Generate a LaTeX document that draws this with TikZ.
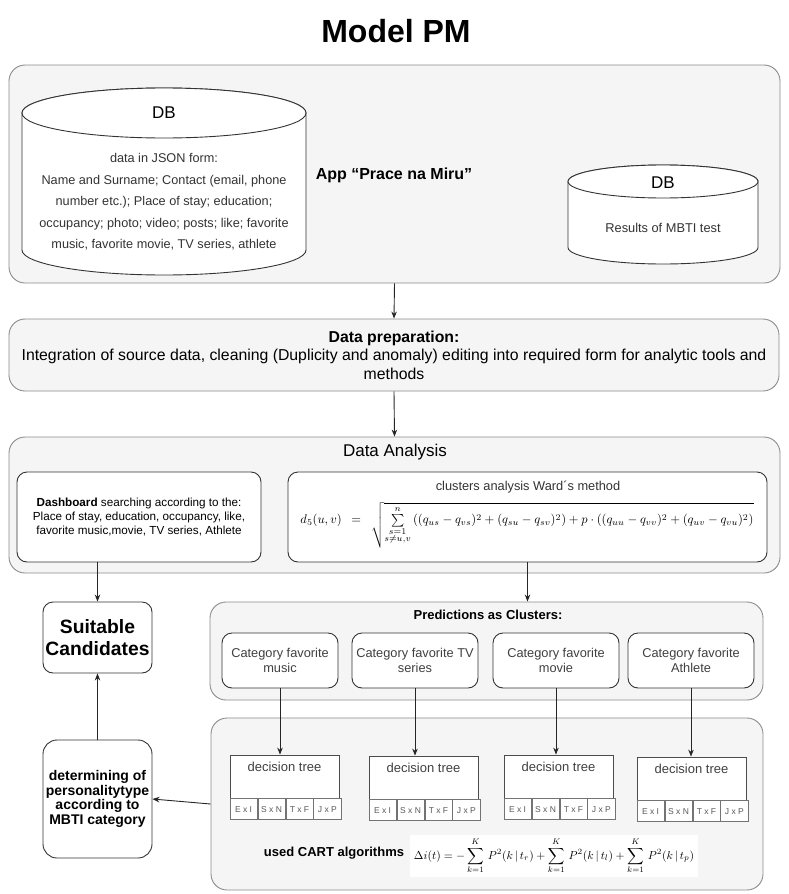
\documentclass[tikz,border=0pt]{standalone}
\usepackage[no-math]{fontspec}
\setmainfont{Liberation Sans}
\usepackage{amsmath}
\usepackage{graphicx}
\usetikzlibrary{arrows.meta,positioning}
\definecolor{panelfill}{HTML}{F5F5F5}
\definecolor{paneledge}{HTML}{8C8C8C}
\definecolor{inkgray}{HTML}{333333}

\begin{document}
\begin{tikzpicture}[x=1pt, y=-1pt,
    panel/.style={
        draw=paneledge, fill=panelfill, line width=0.9pt,
        rounded corners=16pt, inner sep=0pt
    },
    card/.style={
        draw=inkgray, fill=white, line width=0.9pt,
        rounded corners=10pt, align=center, inner sep=2pt
    },
    dbshape/.style={draw=inkgray, fill=white, line width=0.9pt},
    category/.style={
        card, minimum height=55pt, text=black!75,
        font=\fontsize{12.8}{15.5}\selectfont
    },
    treehead/.style={
        draw=black!70, fill=white, line width=0.8pt,
        minimum width=109pt, minimum height=43pt, inner sep=0pt
    },
    treecell/.style={
        draw=black!55, fill=white, line width=0.7pt,
        minimum width=27.25pt, minimum height=21pt, inner sep=0pt,
        text=black!65, font=\fontsize{8.5}{9}\selectfont
    },
    treetxt/.style={inner sep=0pt, text=black!75, font=\fontsize{13}{15}\selectfont},
    arr/.style={-{Stealth[length=7pt,width=5.5pt]}, line width=0.9pt, draw=black!85}
]
\useasboundingbox (0,0) rectangle (789,894);

% Titel
\node[font=\bfseries\fontsize{32}{36}\selectfont] (title) at (396,31) {Model PM};

% Aplikace a databaze
\node[panel, minimum width=771pt, minimum height=218pt] (app) at (394.5,174) {};
\node[font=\bfseries\fontsize{16}{19}\selectfont] (applbl) at (394,175)
    {App “Prace na Miru”};

\draw[dbshape] (22,113) -- (22,250) arc[start angle=180, end angle=0, x radius=142, y radius=25]
    -- (306,113) arc[start angle=0, end angle=-180, x radius=142, y radius=25] -- cycle;
\draw[dbshape] (164,113) ellipse[x radius=142, y radius=25];
\node[font=\fontsize{17}{20}\selectfont] (dbone) at (164,113) {DB};
\node[align=center, text=black!80, font=\fontsize{12.7}{21.5}\selectfont] (dbonetxt) at (164,202)
    {data in JSON form:\\
     Name and Surname; Contact (email, phone\\
     number etc.); Place of stay; education;\\
     occupancy; photo; video; posts; like; favorite\\
     music, favorite movie, TV series, athlete};

\draw[dbshape] (568,181.5) -- (568,247.5) arc[start angle=180, end angle=0, x radius=95, y radius=16.5]
    -- (758,181.5) arc[start angle=0, end angle=-180, x radius=95, y radius=16.5] -- cycle;
\draw[dbshape] (663,181.5) ellipse[x radius=95, y radius=16.5];
\node[font=\fontsize{17}{20}\selectfont] (dbtwo) at (663,183) {DB};
\node[text=black!80, font=\fontsize{12.8}{15}\selectfont] (dbtwotxt) at (663,228)
    {Results of MBTI test};

% Priprava dat
\node[panel, minimum width=770pt, minimum height=72pt, align=center,
      font=\fontsize{15.8}{18.5}\selectfont] (prep) at (394,355)
    {\textbf{Data preparation:}\\
     Integration of source data, cleaning (Duplicity and anomaly) editing into required form for analytic tools and\\
     methods};

% Analyza dat
\node[panel, minimum width=771pt, minimum height=136pt] (ana) at (394.5,505) {};
\node[font=\fontsize{17}{20}\selectfont] (analbl) at (395,452) {Data Analysis};

\node[card, minimum width=244pt, minimum height=90pt,
      font=\fontsize{11.7}{14}\selectfont] (dash) at (139,517)
    {\textbf{Dashboard} searching according to the:\\
     Place of stay, education, occupancy, like,\\
     favorite music,movie, TV series, Athlete};

\node[card, minimum width=479pt, minimum height=90pt] (clus) at (527.5,517) {};
\node[text=black!80, font=\fontsize{12.8}{15}\selectfont] (cluslbl) at (528,487)
    {clusters analysis Ward´s method};
\node[inner sep=0pt] (ward) at (527,525)
    {\resizebox{453pt}{!}{$d_5(u,v)\enspace=\enspace\sqrt{\sum\limits_{\substack{s=1\\ s\neq u,v}}^{n}\,
     ((q_{us}-q_{vs})^2+(q_{su}-q_{sv})^2)+p\cdot((q_{uu}-q_{vv})^2+(q_{uv}-q_{vu})^2)}$}};

% Vysledek
\node[card, minimum width=109pt, minimum height=71pt,
      font=\bfseries\fontsize{19.3}{22}\selectfont] (suit) at (97.5,637.5) {Suitable\\Candidates};

% Predikce jako shluky
\node[panel, minimum width=553pt, minimum height=98pt] (pred) at (486.5,651) {};
\node[font=\bfseries\fontsize{13}{15}\selectfont] (predlbl) at (488,615) {Predictions as Clusters:};
\node[category, minimum width=116pt] (catone)   at (280,660.5) {Category favorite\\music};
\node[category, minimum width=126pt] (cattwo)   at (415,660.5) {Category favorite TV\\series};
\node[category, minimum width=126pt] (catthree) at (556,660.5) {Category favorite\\movie};
\node[category, minimum width=126pt] (catfour)  at (691,660.5) {Category favorite\\Athlete};

% Rozhodovaci stromy
\node[panel, minimum width=552pt, minimum height=172pt] (cart) at (487,804) {};
\node[treehead] (tone)   at (284.5,776.5) {};
\node[treehead] (ttwo)   at (423.5,777.5) {};
\node[treehead] (tthree) at (558.5,776.5) {};
\node[treehead] (tfour)  at (691.5,778.5) {};
\foreach \t in {tone,ttwo,tthree,tfour} {
    \node[treetxt, below=7pt of \t.north] (\t-lbl) {decision tree};
    \node[treecell, anchor=north west] (\t-ei) at (\t.south west) {E x I};
    \node[treecell, right=0pt of \t-ei] (\t-sn) {S x N};
    \node[treecell, right=0pt of \t-sn] (\t-tf) {T x F};
    \node[treecell, right=0pt of \t-tf] (\t-jp) {J x P};
}
\node[font=\bfseries\fontsize{13}{15}\selectfont] (cartlbl) at (334,853) {used CART algorithms};
\node[fill=white, minimum width=288pt, minimum height=42pt, inner sep=0pt] (gini) at (554,856)
    {\resizebox{280pt}{!}{$\displaystyle \Delta i(t)=-\sum_{k=1}^{K}\,P^2(k\,|\,t_r)
     +\sum_{k=1}^{K}\,P^2(k\,|\,t_l)+\sum_{k=1}^{K}\,P^2(k\,|\,t_p)$}};

% Typ osobnosti
\node[card, rounded corners=14pt, minimum width=109pt, minimum height=118pt,
      font=\bfseries\fontsize{14}{14.5}\selectfont] (det) at (97.5,799)
    {determining of\\personalitytype\\according to\\MBTI category};

% Sipky
\draw[arr] (app.south) -- (prep.north);
\draw[arr] (prep.south) -- (ana.north);
\draw[arr] (suit |- dash.south) -- (suit.north);
\draw[arr] (clus.south) -- (clus.south |- pred.north);
\draw[arr] (catone.south) -- (catone.south |- tone.north);
\draw[arr] (cattwo.south) -- (cattwo.south |- ttwo.north);
\draw[arr] (catthree.south) -- (catthree.south |- tthree.north);
\draw[arr] (catfour.south) -- (catfour.south |- tfour.north);
\draw[arr] (cart.west) -- (det.east);
\draw[arr] (det.north) -- (suit.south);

\end{tikzpicture}
\end{document}
